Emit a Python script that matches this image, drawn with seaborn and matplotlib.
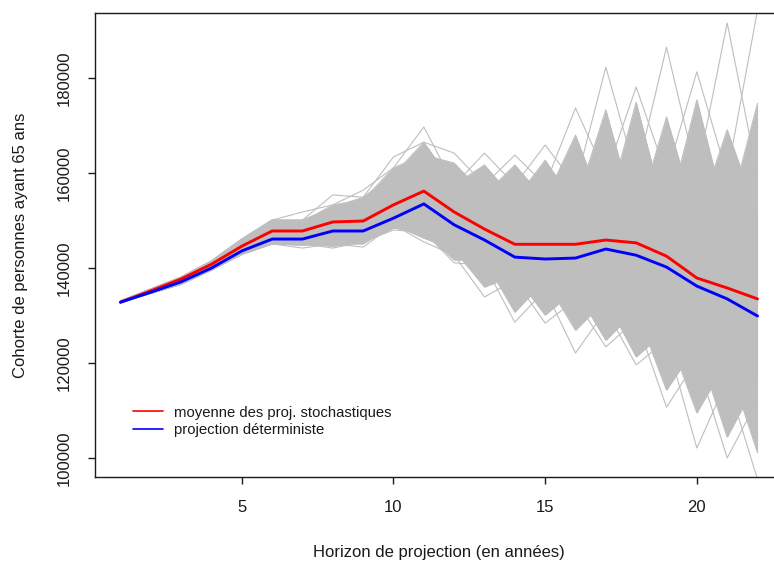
import numpy as np
import pandas as pd
import matplotlib
matplotlib.use("Agg")
import matplotlib.pyplot as plt
from matplotlib.lines import Line2D
import seaborn as sns

# horizon de projection (annees)
horizon = list(range(1, 23))

# moyenne des projections stochastiques (rouge)
moyenne = [132800, 135200, 137700, 140800, 144600, 147800, 147800, 149700,
           149900, 153300, 156200, 151800, 148200, 145000, 145000, 145000,
           145900, 145300, 142500, 137900, 135800, 133500]

# projection deterministe (bleu)
deterministe = [132800, 134900, 137100, 140000, 143600, 146100, 146100, 147800,
                147800, 150500, 153500, 149100, 145900, 142300, 141900, 142100,
                144000, 142700, 140200, 136200, 133500, 129900]

# faisceau dense des trajectoires stochastiques (bords hauts / bas)
haut_a = [133100, 135600, 138100, 141500, 146100, 150100, 149700, 153300,
          154300, 161100, 163800, 162100, 155400, 161700, 154300, 168000,
          151200, 174900, 150100, 175400, 150100, 174700]
haut_b = [133100, 135600, 138100, 141500, 146100, 150100, 150100, 152800,
          154900, 159600, 166500, 157500, 161700, 154300, 162700, 153300,
          173300, 150100, 171800, 150100, 169100, 151200]
bas_a = [132800, 134700, 136600, 139600, 142900, 145100, 145100, 144600,
         145500, 148400, 147600, 141700, 141700, 130700, 137500, 126900,
         133300, 121300, 126900, 109500, 120600, 101100]
bas_b = [132800, 134700, 136600, 139600, 142900, 145100, 144800, 145100,
         145100, 149100, 146300, 143800, 136000, 138500, 130100, 135400,
         124800, 131200, 114300, 123800, 104400, 116400]

# trajectoires extremes isolees
extreme_haut_a = [133100, 135600, 138100, 141500, 146100, 150100, 151800, 153300,
                  156400, 161100, 169700, 157500, 164200, 157500, 165900, 157500,
                  182300, 159600, 186500, 159600, 191600, 159600]
extreme_haut_b = [133100, 135600, 138100, 141500, 146100, 150100, 150100, 155400,
                  154900, 163400, 166500, 164200, 157500, 163800, 157500, 173700,
                  159600, 178100, 159600, 181300, 159600, 194300]
extreme_bas_a = [132800, 134700, 136600, 139600, 142900, 145100, 144200, 145100,
                 144400, 149100, 145500, 142700, 133900, 137500, 128400, 133300,
                 123400, 129100, 110700, 120600, 100000, 112200]
extreme_bas_b = [132800, 134700, 136600, 139600, 142900, 145100, 145100, 144200,
                 145500, 148000, 147600, 141100, 140600, 128600, 135400, 122100,
                 131200, 119600, 124800, 102100, 116400, 95500]

sns.set_style("ticks")
plt.rcParams["font.family"] = ["Liberation Sans", "DejaVu Sans"]
plt.rcParams["text.color"] = "#1a1a1a"
plt.rcParams["axes.labelcolor"] = "#1a1a1a"
plt.rcParams["xtick.color"] = "#1a1a1a"
plt.rcParams["ytick.color"] = "#1a1a1a"

fig = plt.figure(figsize=(7.74, 5.65), dpi=100)
ax = fig.add_axes([95 / 774, 1 - 477 / 565, 688 / 774, 464 / 565])

gris = "#bebebe"
for bas in (bas_a, bas_b):
    for haut in (haut_a, haut_b):
        ax.fill_between(horizon, bas, haut, color=gris, lw=0)

series = [haut_a, haut_b, bas_a, bas_b,
          extreme_haut_a, extreme_haut_b, extreme_bas_a, extreme_bas_b]
traj = pd.DataFrame({"horizon": horizon * len(series),
                     "valeur": sum(series, []),
                     "id": np.repeat(range(len(series)), len(horizon))})
sns.lineplot(data=traj, x="horizon", y="valeur", units="id", estimator=None,
             color=gris, lw=0.8, ax=ax)

sns.lineplot(x=horizon, y=moyenne, color="red", lw=2.1, ax=ax)
sns.lineplot(x=horizon, y=deterministe, color="blue", lw=2.1, ax=ax)

ax.set_xlim(0.16, 22.84)
ax.set_ylim(96000, 193700)
ax.set_xticks([5, 10, 15, 20])
ax.set_yticks([100000, 120000, 140000, 160000, 180000])
ax.set_yticklabels(["100000", "120000", "140000", "160000", "180000"],
                   rotation=90, va="center")
ax.tick_params(direction="out", length=5, width=1, labelsize=12, pad=11.5)
for s in ax.spines.values():
    s.set_color("#1a1a1a")
    s.set_linewidth(1)

ax.set_xlabel("Horizon de projection (en années)", fontsize=12, labelpad=22)
ax.set_ylabel("Cohorte de personnes ayant 65 ans", fontsize=12, labelpad=21)

handles = [Line2D([], [], color="red", lw=1.2), Line2D([], [], color="blue", lw=1.2)]
ax.legend(handles, ["moyenne des proj. stochastiques", "projection déterministe"],
          loc="upper left", bbox_to_anchor=(0.055, 0.154), frameon=False,
          fontsize=10.7, handlelength=2.0, handletextpad=0.75,
          labelspacing=0.25, borderpad=0, borderaxespad=0)

fig.savefig("out.png", dpi=100)
